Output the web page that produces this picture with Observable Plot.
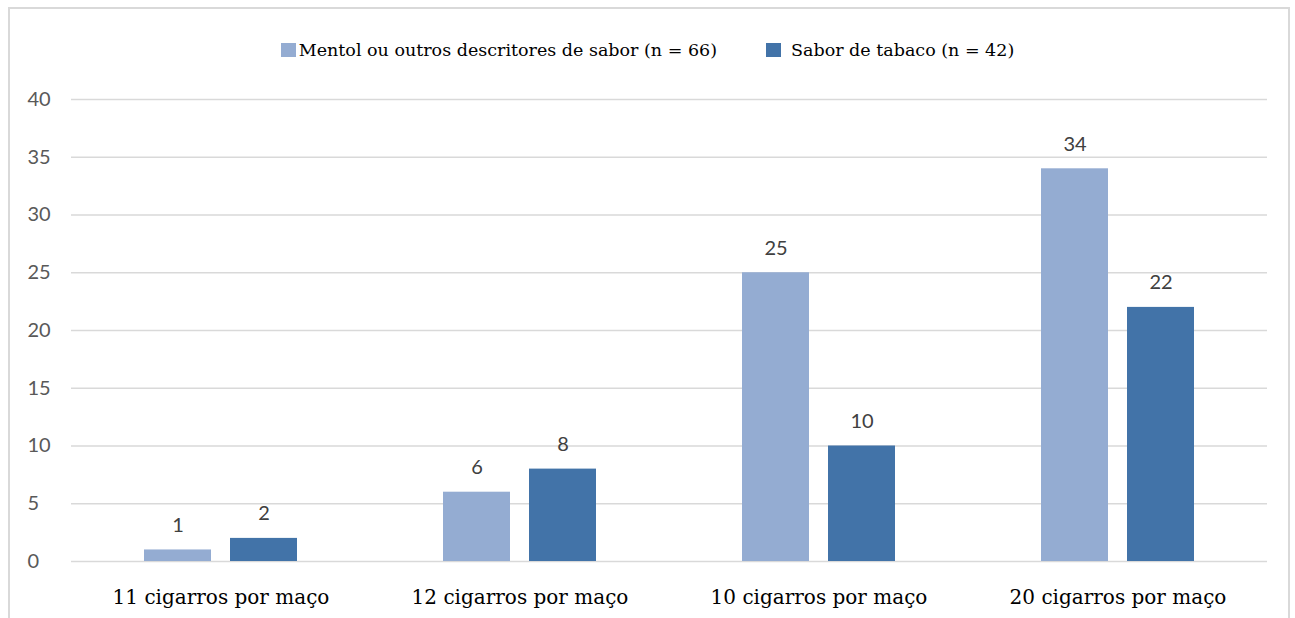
<!DOCTYPE html>
<html>
<head>
<meta charset="utf-8">
<script src="https://cdn.jsdelivr.net/npm/d3@7"></script>
<script src="https://cdn.jsdelivr.net/npm/@observablehq/plot@0.6"></script>
<style>
  html, body { margin: 0; padding: 0; background: #fff; }
  body { width: 1295px; height: 618px; overflow: hidden; position: relative; }
  #frame { position: absolute; left: 8px; top: 7px; width: 1282px; height: 700px; border: 2px solid #d9d9d9; box-sizing: border-box; pointer-events: none; }
  #legend { position: relative; height: 70px; box-sizing: border-box; padding-top: 40px; display: flex; justify-content: center; font-family: "DejaVu Serif", serif; font-size: 17.5px; line-height: 20px; color: #000; }
  .item { display: flex; align-items: center; height: 20px; }
  .sw { width: 15px; height: 14px; display: inline-block; }
  #chart { position: relative; }
</style>
</head>
<body>
<div id="frame"></div>
<div id="legend"></div>
<div id="chart"></div>
<script>
const categories = ["11 cigarros por maço", "12 cigarros por maço", "10 cigarros por maço", "20 cigarros por maço"];
const seriesNames = ["Mentol ou outros descritores de sabor (n = 66)", "Sabor de tabaco (n = 42)"];
const mentolValues = [1, 6, 25, 34];
const tabacoValues = [2, 8, 10, 22];
const yTicks = [0, 5, 10, 15, 20, 25, 30, 35, 40];
const colors = ["#94acd2", "#4273a8"];

const data = categories.flatMap((c, i) => [
  {category: c, series: seriesNames[0], value: mentolValues[i]},
  {category: c, series: seriesNames[1], value: tabacoValues[i]}
]);
const dMentol = data.filter(d => d.series === seriesNames[0]);
const dTabaco = data.filter(d => d.series === seriesNames[1]);

// legend
const legend = document.getElementById("legend");
seriesNames.forEach((s, i) => {
  const item = document.createElement("div");
  item.className = "item";
  if (i === 1) item.style.marginLeft = "49px";
  const sw = document.createElement("span");
  sw.className = "sw";
  sw.style.background = colors[i];
  sw.style.marginRight = i === 0 ? "3px" : "10px";
  const t = document.createElement("span");
  t.textContent = s;
  item.appendChild(sw);
  item.appendChild(t);
  legend.appendChild(item);
});

const chart = Plot.plot({
  width: 1295,
  height: 548,
  marginLeft: 71,
  marginRight: 28,
  marginTop: 29,
  marginBottom: 57,
  style: {background: "transparent"},
  x: {domain: categories, padding: 0, label: null},
  y: {domain: [0, 40], label: null},
  color: {domain: seriesNames, range: colors},
  marks: [
    Plot.ruleY(yTicks, {stroke: "#d9d9d9", strokeWidth: 1.5}),
    Plot.barY(dMentol, {x: "category", y: "value", fill: "series", insetLeft: 73, insetRight: 159}),
    Plot.barY(dTabaco, {x: "category", y: "value", fill: "series", insetLeft: 159, insetRight: 73}),
    Plot.text(dMentol, {x: "category", y: "value", text: d => String(d.value), dx: -43, dy: -18, lineAnchor: "bottom", fontSize: 20, fontFamily: "Lato", fill: "#404040"}),
    Plot.text(dTabaco, {x: "category", y: "value", text: d => String(d.value), dx: 43, dy: -18, lineAnchor: "bottom", fontSize: 20, fontFamily: "Lato", fill: "#404040"}),
    Plot.axisY({ticks: yTicks, tickSize: 0, tickPadding: 44, textAnchor: "start", fontSize: 20, fontFamily: "Lato", color: "#595959", label: null}),
    Plot.axisX({tickSize: 0, tickPadding: 28, fontSize: 20, fontFamily: "DejaVu Serif", color: "#000", label: null})
  ]
});
document.getElementById("chart").appendChild(chart);
</script>
</body>
</html>
